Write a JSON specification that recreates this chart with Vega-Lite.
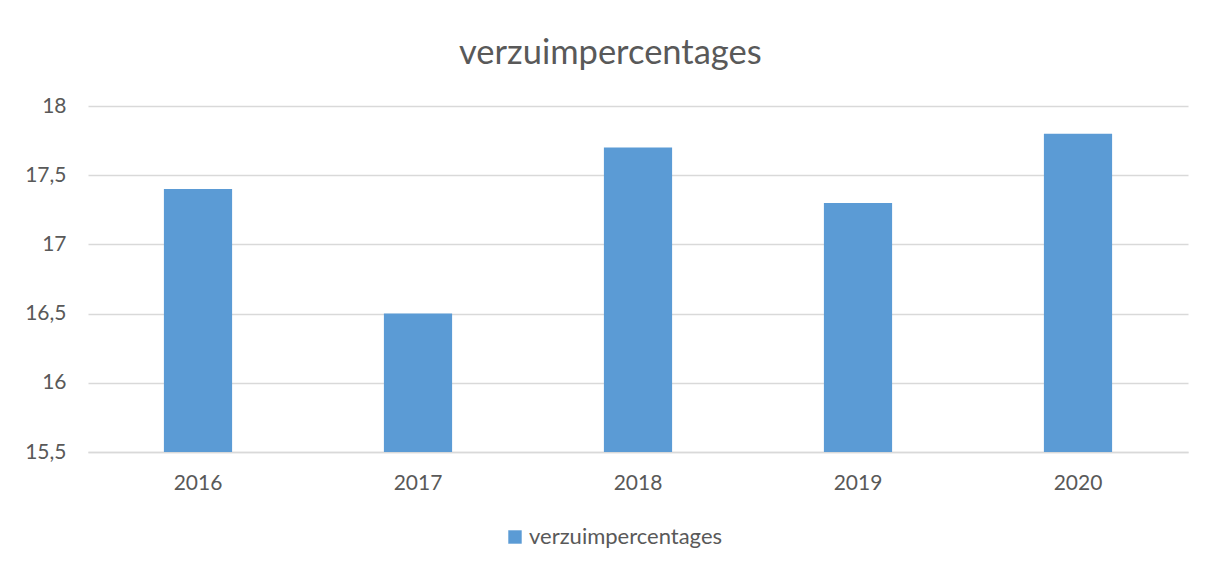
{
  "$schema": "https://vega.github.io/schema/vega-lite/v6.json",
  "width": 1100,
  "height": 346,
  "autosize": {"type": "none"},
  "padding": {"left": 88, "top": 106, "right": 24, "bottom": 118},
  "background": "white",
  "title": {
    "text": "verzuimpercentages",
    "font": "Lato",
    "fontSize": 34.5,
    "fontWeight": "normal",
    "color": "#595959",
    "anchor": "middle",
    "frame": "bounds",
    "offset": 24,
    "dx": 4
  },
  "data": {
    "values": [
      {"jaar": "2016", "waarde": 17.4, "reeks": "verzuimpercentages"},
      {"jaar": "2017", "waarde": 16.5, "reeks": "verzuimpercentages"},
      {"jaar": "2018", "waarde": 17.7, "reeks": "verzuimpercentages"},
      {"jaar": "2019", "waarde": 17.3, "reeks": "verzuimpercentages"},
      {"jaar": "2020", "waarde": 17.8, "reeks": "verzuimpercentages"}
    ]
  },
  "mark": {"type": "bar"},
  "encoding": {
    "x": {
      "field": "jaar",
      "type": "nominal",
      "scale": {"paddingInner": 0.69, "paddingOuter": 0.345},
      "axis": {
        "title": null,
        "labelAngle": 0,
        "labelFont": "Lato",
        "labelFontSize": 21,
        "labelColor": "#595959",
        "labelPadding": 20,
        "ticks": false,
        "domainColor": "#d9d9d9",
        "domainWidth": 1.5,
        "grid": false
      }
    },
    "y": {
      "field": "waarde",
      "type": "quantitative",
      "scale": {"domain": [15.5, 18], "zero": false, "nice": false},
      "axis": {
        "title": null,
        "values": [15.5, 16, 16.5, 17, 17.5, 18],
        "labelExpr": "replace(format(datum.value, '.1~f'), '.', ',')",
        "labelFont": "Lato",
        "labelFontSize": 21,
        "labelColor": "#595959",
        "labelPadding": 22,
        "ticks": false,
        "domain": false,
        "gridColor": "#d9d9d9",
        "gridWidth": 1.5
      }
    },
    "y2": {"datum": 15.5},
    "color": {
      "field": "reeks",
      "type": "nominal",
      "scale": {"range": ["#5B9BD5"]},
      "legend": {
        "title": null,
        "orient": "none",
        "legendX": 416,
        "legendY": 420,
        "symbolType": "square",
        "symbolSize": 180,
        "symbolStrokeWidth": 0,
        "labelFont": "Lato",
        "labelFontSize": 22,
        "labelColor": "#595959",
        "labelOffset": 3,
        "labelLimit": 500
      }
    }
  },
  "config": {
    "view": {"stroke": null}
  }
}
